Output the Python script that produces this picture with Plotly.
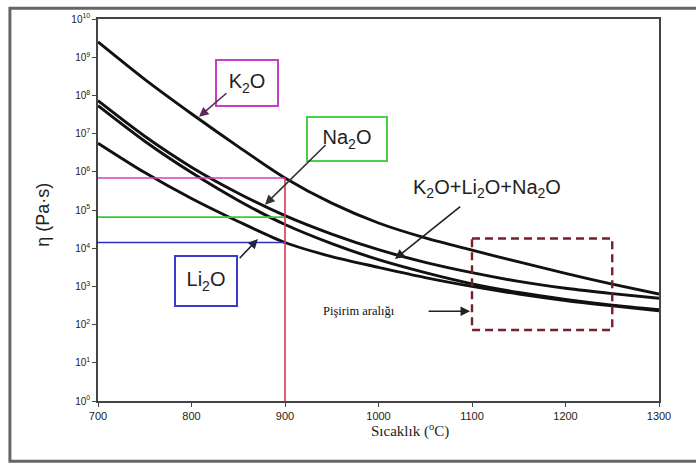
import plotly.graph_objects as go

# ---------------- data ----------------
temperature = [700, 750, 800, 850, 900, 950, 1000, 1050, 1100, 1150, 1200, 1250, 1300]
eta_K2O = [2.51e9, 2.63e8, 3.31e7, 4.57e6, 6.92e5, 1.51e5, 4.57e4, 1.86e4, 8.9e3, 4.37e3, 2.19e3, 1.15e3, 631]
eta_Na2O = [7.24e7, 8.51e6, 1.32e6, 2.75e5, 7.1e4, 2.34e4, 9.12e3, 4.27e3, 2.29e3, 1.35e3, 891, 646, 490]
eta_mix = [5.37e7, 6.31e6, 9.55e5, 1.78e5, 4.17e4, 1.32e4, 5.01e3, 2.29e3, 1.17e3, 692, 457, 324, 245]
eta_Li2O = [5.62e6, 9.55e5, 2.0e5, 5.01e4, 1.41e4, 6.03e3, 3.16e3, 1.70e3, 1.0e3, 631, 427, 309, 229]

ref_T = 900
ref_K2O = 6.9e5
ref_Na2O = 6.5e4
ref_Li2O = 1.41e4
axis_min_T = 700
axis_bottom = 1

firing_T = [1100, 1250]
firing_eta = [72, 1.8e4]

ytick_exp = list(range(0, 11))
xtick_vals = [700, 800, 900, 1000, 1100, 1200, 1300]

fig = go.Figure()

# viscosity curves
for ys in (eta_K2O, eta_Na2O, eta_mix, eta_Li2O):
    fig.add_trace(go.Scatter(x=temperature, y=ys, mode="lines",
                             line=dict(color="#111111", width=2.9, shape="spline", smoothing=0.8),
                             showlegend=False, hoverinfo="skip"))

# reference lines
fig.add_trace(go.Scatter(x=[axis_min_T, ref_T], y=[ref_K2O, ref_K2O], mode="lines",
                         line=dict(color="#d63fb5", width=1.6), showlegend=False))
fig.add_trace(go.Scatter(x=[axis_min_T, ref_T], y=[ref_Na2O, ref_Na2O], mode="lines",
                         line=dict(color="#3cc83c", width=1.6), showlegend=False))
fig.add_trace(go.Scatter(x=[axis_min_T, ref_T], y=[ref_Li2O, ref_Li2O], mode="lines",
                         line=dict(color="#3030c0", width=1.6), showlegend=False))
fig.add_trace(go.Scatter(x=[ref_T, ref_T], y=[axis_bottom, ref_K2O], mode="lines",
                         line=dict(color="#d8365a", width=1.6), showlegend=False))

# firing range dashed box
fig.add_trace(go.Scatter(x=[firing_T[0], firing_T[1], firing_T[1], firing_T[0], firing_T[0]],
                         y=[firing_eta[1], firing_eta[1], firing_eta[0], firing_eta[0], firing_eta[1]],
                         mode="lines", line=dict(color="#7a1f2a", width=2.4, dash="8px,5px"),
                         showlegend=False))

lab_font = dict(family="Arial, Liberation Sans, sans-serif", size=20, color="#222222")

annotations = [
    dict(x=859, y=8.32, text="K<sub>2</sub>O", showarrow=False, font=lab_font,
         bordercolor="#c63fc6", borderwidth=2, width=58, height=42),
    dict(x=966, y=6.86, text="Na<sub>2</sub>O", showarrow=False, font=lab_font,
         bordercolor="#48d048", borderwidth=2, width=76, height=40),
    dict(x=816, y=3.13, text="Li<sub>2</sub>O", showarrow=False, font=lab_font,
         bordercolor="#3a3acc", borderwidth=2, width=58, height=46),
    dict(x=1116, y=5.56, text="K<sub>2</sub>O+Li<sub>2</sub>O+Na<sub>2</sub>O", showarrow=False, font=lab_font),
    dict(x=979, y=2.35, text="Pişirim aralığı", showarrow=False,
         font=dict(family="Liberation Serif, Times New Roman, serif", size=12.5, color="#111111")),
    # arrows
    dict(x=808, y=7.44, ax=839, ay=8.09, axref="x", ayref="y", text="", showarrow=True,
         arrowhead=2, arrowsize=1.2, arrowwidth=1.6, arrowcolor="#5a2a5a"),
    dict(x=878.6, y=5.14, ax=945, ay=6.74, axref="x", ayref="y", text="", showarrow=True,
         arrowhead=2, arrowsize=1.2, arrowwidth=1.6, arrowcolor="#333333"),
    dict(x=871, y=4.24, ax=850, ay=3.70, axref="x", ayref="y", text="", showarrow=True,
         arrowhead=2, arrowsize=1.2, arrowwidth=1.6, arrowcolor="#222244"),
    dict(x=1017.6, y=3.72, ax=1089, ay=5.12, axref="x", ayref="y", text="", showarrow=True,
         arrowhead=2, arrowsize=1.2, arrowwidth=1.6, arrowcolor="#222222"),
    dict(x=1098, y=2.35, ax=1052, ay=2.35, axref="x", ayref="y", text="", showarrow=True,
         arrowhead=2, arrowsize=1.2, arrowwidth=1.6, arrowcolor="#222222"),
    # axis titles
    dict(xref="paper", yref="paper", x=-0.121, y=0.488, text="η (Pa·s)", textangle=-90,
         showarrow=False, font=dict(family="Arial, Liberation Sans, sans-serif", size=18, color="#222222")),
    dict(xref="paper", yref="paper", x=0.556, y=-0.108, text="Sıcaklık (<sup>o</sup>C)",
         showarrow=False, font=dict(family="Liberation Serif, Times New Roman, serif", size=15, color="#222222")),
]

fig.update_layout(
    width=696, height=468,
    margin=dict(l=98, r=37, t=14, b=67),
    paper_bgcolor="white", plot_bgcolor="white",
    annotations=annotations,
    shapes=[dict(type="rect", xref="paper", yref="paper", x0=-0.157, x1=1.1, y0=-0.158, y1=1.028,
                 line=dict(color="#666666", width=3))],
)

fig.update_xaxes(range=[700, 1300], tickvals=xtick_vals, ticktext=[str(v) for v in xtick_vals],
                 showgrid=False, zeroline=False, showline=True, mirror=True,
                 linecolor="#444444", linewidth=1.5, ticks="outside", ticklen=4, tickcolor="#444444",
                 tickfont=dict(family="Arial, Liberation Sans, sans-serif", size=11, color="#222222"))
fig.update_yaxes(type="log", range=[0, 10], tickvals=[10 ** e for e in ytick_exp],
                 ticktext=["10<sup>%d</sup>" % e for e in ytick_exp],
                 showgrid=False, zeroline=False, showline=True, mirror=True,
                 linecolor="#444444", linewidth=1.5, ticks="outside", ticklen=4, tickcolor="#444444",
                 tickfont=dict(family="Arial, Liberation Sans, sans-serif", size=10, color="#222222"))

fig.write_html("out.html")
